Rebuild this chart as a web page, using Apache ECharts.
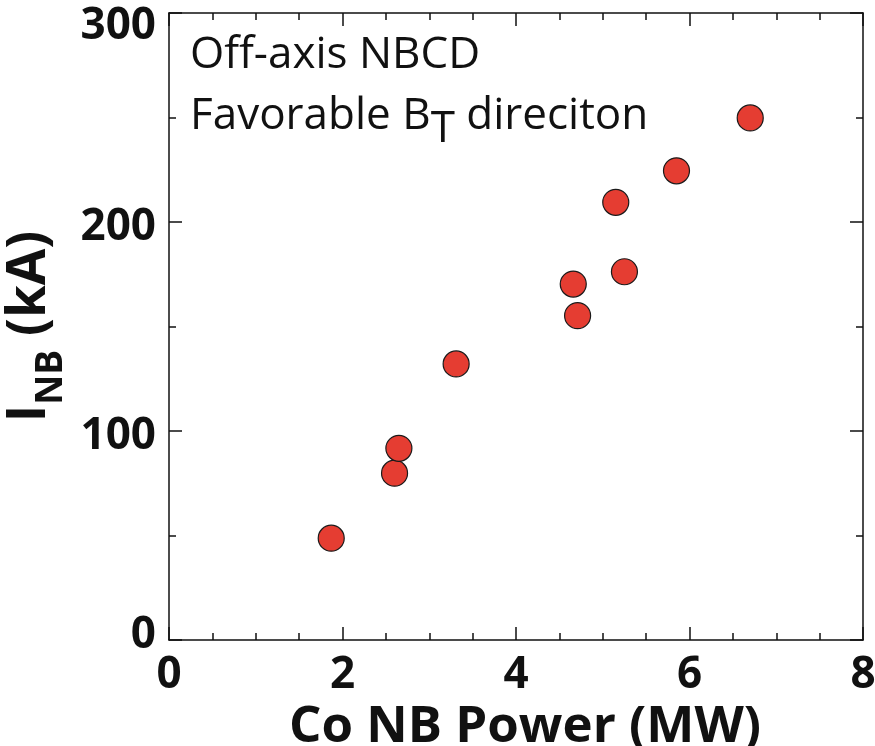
<!DOCTYPE html>
<html><head><meta charset="utf-8">
<script src="https://cdn.jsdelivr.net/npm/echarts@6/dist/echarts.min.js"></script>
<style>html,body{margin:0;padding:0;background:#fff}#c{width:875px;height:746px}</style>
</head><body><div id="c"></div>
<script>
// Data
const coNbPower = [1.87, 2.60, 2.65, 3.31, 4.66, 4.71, 5.15, 5.25, 5.85, 6.70]; // MW
const iNb       = [48.7, 79.8, 91.7, 132.1, 170.3, 155.2, 209.4, 176.2, 224.5, 249.8]; // kA
const xTickLabels = ['0', '2', '4', '6', '8'];
const yTickLabels = ['0', '100', '200', '300'];
const annotationLines = ['Off-axis NBCD', 'Favorable B{t|T} direciton'];

const FONT = 'Open Sans';
const INK = '#111';

const chart = echarts.init(document.getElementById('c'), null, {renderer: 'canvas'});

function axisBase(extra) {
  return Object.assign({
    type: 'value',
    axisLine: {show: true, onZero: false, lineStyle: {color: INK, width: 1.5}},
    axisTick: {show: true, inside: true, length: 13, lineStyle: {color: INK, width: 1.5}},
    splitLine: {show: false},
    minorSplitLine: {show: false}
  }, extra);
}

const yLabelStyle = {color: INK, fontFamily: FONT, fontWeight: 'bold', fontSize: 44};

const option = {
  backgroundColor: '#fff',
  animation: false,
  grid: {left: 169, right: 12, top: 13, bottom: 106, containLabel: false, outerBoundsMode: 'none'},
  xAxis: [
    axisBase({
      position: 'bottom', min: 0, max: 8, interval: 2,
      minorTick: {show: true, splitNumber: 4, length: 7, lineStyle: {color: INK, width: 1.5}},
      axisLabel: {
        show: true, margin: 13, color: INK, fontFamily: FONT, fontWeight: 'bold', fontSize: 44,
        formatter: v => xTickLabels[Math.round(v / 2)] ?? ''
      },
      name: 'Co NB Power (MW)', nameLocation: 'middle', nameGap: 45,
      nameTextStyle: {color: INK, fontFamily: FONT, fontWeight: 'bold', fontSize: 51, padding: [0, 0, 0, 18]}
    }),
    axisBase({
      position: 'top', min: 0, max: 8, interval: 2,
      minorTick: {show: true, splitNumber: 4, length: 7, lineStyle: {color: INK, width: 1.5}},
      axisLabel: {show: false}
    })
  ],
  yAxis: [
    axisBase({
      position: 'left', min: 0, max: 300, interval: 100,
      minorTick: {show: true, splitNumber: 2, length: 7, lineStyle: {color: INK, width: 1.5}},
      axisLabel: {
        show: true, margin: 13, ...yLabelStyle,
        formatter: v => {
          const i = Math.round(v / 100);
          const t = yTickLabels[i] ?? '';
          if (i === 0) return '{b|' + t + '}';
          if (i === yTickLabels.length - 1) return '{t|' + t + '}';
          return '{m|' + t + '}';
        },
        rich: {
          b: {...yLabelStyle, padding: [0, 0, 10, 0]},
          m: {...yLabelStyle, padding: [10, 0, 0, 0]},
          t: {...yLabelStyle, padding: [26, 0, 0, 0]}
        }
      },
      name: 'I{s|NB} (kA)', nameLocation: 'middle', nameGap: 88,
      nameTextStyle: {
        color: INK, fontFamily: FONT, fontWeight: 'bold', fontSize: 53, lineHeight: 56,
        rich: {
          s: {color: INK, fontFamily: FONT, fontWeight: 'bold', fontSize: 37, lineHeight: 14, padding: [42, 0, 0, 0]}
        }
      }
    }),
    axisBase({
      position: 'right', min: 0, max: 300, interval: 100,
      minorTick: {show: true, splitNumber: 2, length: 7, lineStyle: {color: INK, width: 1.5}},
      axisLabel: {show: false}
    })
  ],
  graphic: [{
    type: 'text', left: 190, top: 25, z: 10,
    style: {
      text: annotationLines.join('\n'),
      fill: INK, fontFamily: FONT, fontSize: 44, lineHeight: 61,
      rich: {
        t: {fill: INK, fontFamily: FONT, fontSize: 44, lineHeight: 35, padding: [26, 0, 0, 0]}
      }
    }
  }],
  series: [{
    type: 'scatter', xAxisIndex: 0, yAxisIndex: 0,
    data: coNbPower.map((x, i) => [x, iNb[i]]),
    symbol: 'circle', symbolSize: 26,
    itemStyle: {color: '#e53d32', borderColor: '#1a1a1a', borderWidth: 1.2, opacity: 1},
    z: 5
  }]
};
chart.setOption(option);
</script>
</body></html>
